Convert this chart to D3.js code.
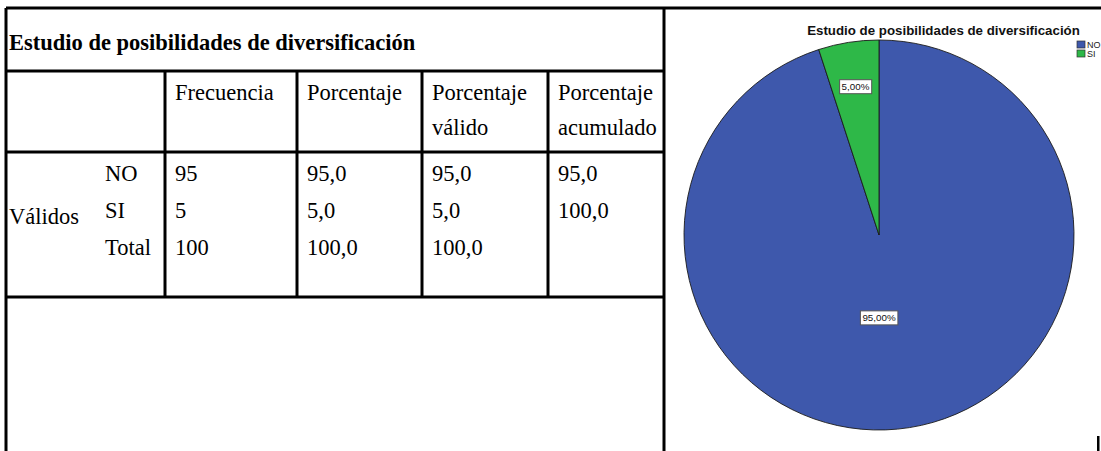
<!DOCTYPE html>
<html>
<head>
<meta charset="utf-8">
<script src="https://cdn.jsdelivr.net/npm/d3@7"></script>
<style>
  html, body { margin: 0; padding: 0; background: #fff; overflow: hidden; }
  svg { display: block; }
</style>
</head>
<body>
<svg id="chart" width="1101" height="451"></svg>
<script>
// ---- Frequency table ----
const tableTitle = "Estudio de posibilidades de diversificación";
const headerLabels = [["Frecuencia"], ["Porcentaje"], ["Porcentaje", "válido"], ["Porcentaje", "acumulado"]];
const groupLabel = "Válidos";
const categories = ["NO", "SI", "Total"];
const frecuencia = [95, 5, 100];
const porcentaje = [95.0, 5.0, 100.0];
const porcentajeValido = [95.0, 5.0, 100.0];
const porcentajeAcumulado = [95.0, 100.0, null];

// ---- Pie chart ----
const pieTitle = "Estudio de posibilidades de diversificación";
const pieCategories = ["NO", "SI"];
const pieValues = [95, 5];
const pieColors = ["#3E58AC", "#2EB848"];

const esLocale = d3.formatLocale({ decimal: ",", thousands: ".", grouping: [3], currency: ["", "€"] });
const fmt1 = esLocale.format(".1f");
const fmt2 = esLocale.format(".2f");
const fmtInt = esLocale.format("d");

const svg = d3.select("#chart");
const serif = "'Liberation Serif', 'Times New Roman', serif";
const sans = "'Liberation Sans', Arial, sans-serif";

// ---------- table ----------
const T = { left: 6, right: 664, top: 8, titleLine: 71, headLine: 152, bottom: 297 };
const colEdges = [165, 297, 422, 548];
const colKeys = ["freq", "pct", "valid", "cum"];
const colX = d3.scaleOrdinal().domain(colKeys).range(colEdges);
const rowY = d3.scalePoint().domain(categories).range([181, 255]);

const lines = svg.append("g").attr("stroke", "#000").attr("stroke-width", 3);
// outer frame
lines.append("line").attr("x1", T.left).attr("x2", 1101).attr("y1", T.top).attr("y2", T.top);
lines.append("line").attr("x1", T.left).attr("x2", T.left).attr("y1", T.top).attr("y2", 451);
lines.append("line").attr("x1", T.right).attr("x2", T.right).attr("y1", T.top).attr("y2", 451);
// horizontal rules
[T.titleLine, T.headLine, T.bottom].forEach(y =>
  lines.append("line").attr("x1", T.left).attr("x2", T.right).attr("y1", y).attr("y2", y));
// column rules
colKeys.forEach(k =>
  lines.append("line").attr("x1", colX(k)).attr("x2", colX(k)).attr("y1", T.titleLine).attr("y2", T.bottom));

const txt = svg.append("g").attr("font-family", serif).attr("font-size", 22.5).attr("fill", "#000");
txt.append("text").attr("x", 9).attr("y", 50).attr("font-weight", "bold").text(tableTitle);

headerLabels.forEach((lbl, i) => {
  lbl.forEach((s, j) => {
    txt.append("text").attr("x", colX(colKeys[i]) + 10).attr("y", 100 + j * 35).text(s);
  });
});

txt.append("text").attr("x", 9).attr("y", 224).text(groupLabel);

const columns = [
  frecuencia.map(v => fmtInt(v)),
  porcentaje.map(v => fmt1(v)),
  porcentajeValido.map(v => fmt1(v)),
  porcentajeAcumulado.map(v => v == null ? "" : fmt1(v))
];

categories.forEach((c, r) => {
  txt.append("text").attr("x", 105).attr("y", rowY(c)).text(c);
  columns.forEach((col, i) => {
    txt.append("text").attr("x", colX(colKeys[i]) + 10).attr("y", rowY(c)).text(col[r]);
  });
});

// ---------- pie ----------
const cx = 879, cy = 235, R = 195;
const total = d3.sum(pieValues);
const pie = d3.pie().sort(null).value(d => d.value).startAngle(0);
const arcs = pie(pieCategories.map((k, i) => ({ key: k, value: pieValues[i] })));
const arc = d3.arc().innerRadius(0).outerRadius(R);
const color = d3.scaleOrdinal().domain(pieCategories).range(pieColors);

const gPie = svg.append("g").attr("transform", `translate(${cx},${cy})`);
gPie.selectAll("path").data(arcs).join("path")
  .attr("d", arc)
  .attr("fill", d => color(d.data.key))
  .attr("stroke", "#1b1b1b")
  .attr("stroke-width", 0.9);

// value labels in boxes: the small slice is labelled along its bisector,
// the large one straight below the centre
const labelPlace = {
  NO: d => d3.pointRadial(Math.PI, 0.425 * R),
  SI: d => d3.pointRadial((d.startAngle + d.endAngle) / 2, 0.77 * R)
};
arcs.forEach(d => {
  const [lx, ly] = labelPlace[d.data.key](d);
  const g = gPie.append("g").attr("transform", `translate(${lx},${ly})`);
  const t = g.append("text")
    .attr("text-anchor", "middle").attr("dy", "0.35em")
    .attr("font-family", sans).attr("font-size", 9.8).attr("fill", "#111")
    .text(fmt2(d.data.value / total * 100) + "%");
  const bb = t.node().getBBox();
  g.insert("rect", "text")
    .attr("x", bb.x - 2).attr("y", -7).attr("width", bb.width + 4).attr("height", 14)
    .attr("fill", "#fff").attr("stroke", "#555").attr("stroke-width", 1);
});

// title
svg.append("text").attr("x", 943.5).attr("y", 35)
  .attr("text-anchor", "middle").attr("font-family", sans)
  .attr("font-size", 13.3).attr("font-weight", "bold").attr("fill", "#111")
  .text(pieTitle);

// legend
const legY = d3.scalePoint().domain(pieCategories).range([41, 50]);
const leg = svg.append("g");
pieCategories.forEach(k => {
  leg.append("rect").attr("x", 1077).attr("y", legY(k)).attr("width", 8).attr("height", 7)
    .attr("fill", color(k)).attr("stroke", "#333").attr("stroke-width", 0.7);
  leg.append("text").attr("x", 1087).attr("y", legY(k) + 7)
    .attr("font-family", sans).attr("font-size", 9).attr("fill", "#222").text(k);
});

// frame tick at the lower right
svg.append("rect").attr("x", 1097).attr("y", 436).attr("width", 2.5).attr("height", 15).attr("fill", "#000");
</script>
</body>
</html>
